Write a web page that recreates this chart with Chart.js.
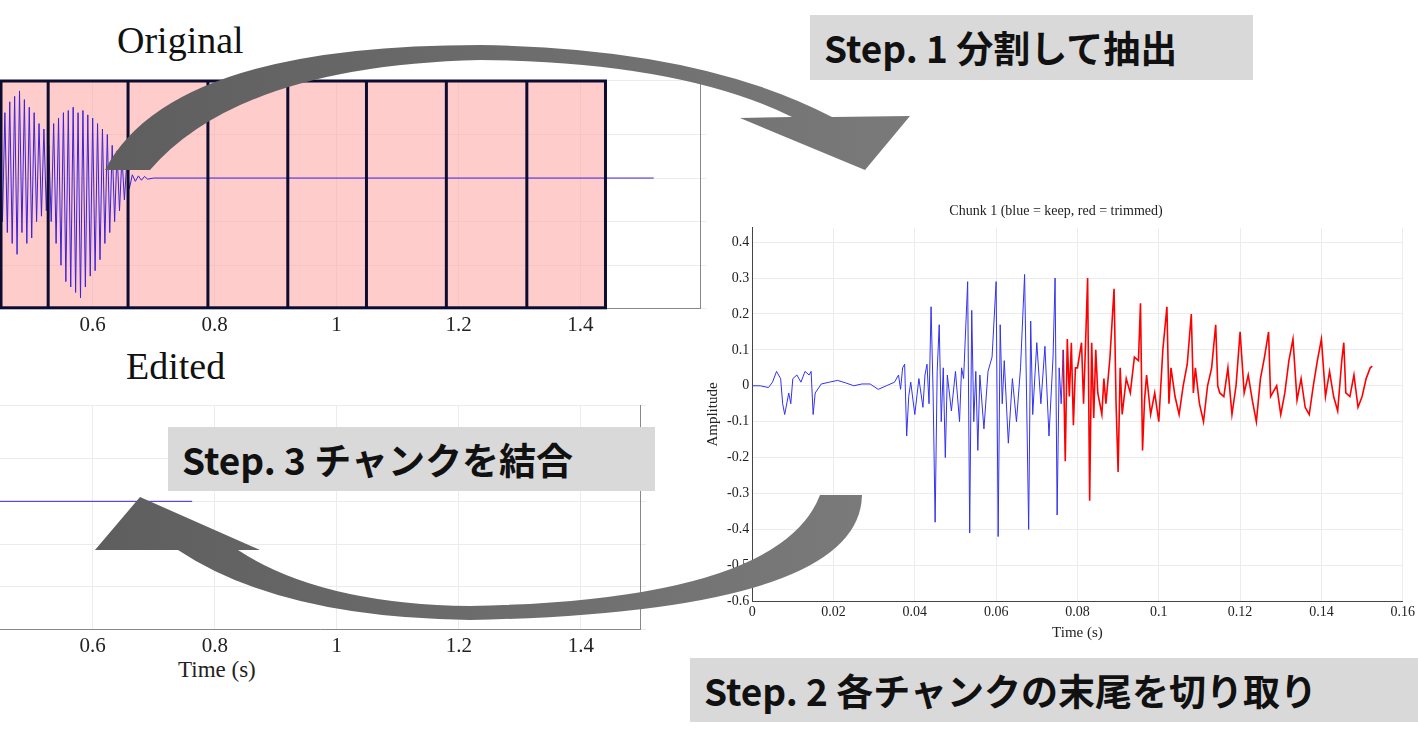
<!DOCTYPE html>
<html><head><meta charset="utf-8">
<script src="https://cdn.jsdelivr.net/npm/chart.js@4.4.1/dist/chart.umd.min.js"></script>
<style>
body{margin:0;width:1418px;height:742px;background:#fff;position:relative;overflow:hidden;font-family:"Liberation Serif",serif}
.abs{position:absolute}
.ttl{font-family:"Liberation Serif",serif;font-size:38px;color:#111}
.step{position:absolute;background:#d9d9d9;font-family:"Noto Sans CJK JP",sans-serif;font-weight:700;font-size:37px;color:#111;line-height:64px;padding-left:14px;box-sizing:border-box}
</style></head><body>
<div class="abs ttl" style="left:117px;top:18px">Original</div>
<div class="abs ttl" style="left:126px;top:344px">Edited</div>
<div class="abs" style="left:178px;top:657px;font-size:23px;color:#222">Time (s)</div>
<div class="abs" style="left:0;top:70px;width:726px;height:272px"><canvas id="orig"></canvas></div>
<div class="abs" style="left:0;top:395px;width:666px;height:268px"><canvas id="edit"></canvas></div>
<div class="abs" style="left:702px;top:195px;width:716px;height:447px"><canvas id="chunk"></canvas></div>
<svg class="abs" style="left:0;top:0" width="1418" height="742">
<defs><linearGradient id="g" x1="0" y1="0" x2="1" y2="0"><stop offset="0" stop-color="#5e5e5e"/><stop offset="1" stop-color="#7a7a7a"/></linearGradient></defs>
<path fill="url(#g)" d="M105,170 Q170,45 480,45 Q700,48 832,117 L910,116 L865,170 L740,118 L792,117 Q680,62 480,60 Q240,66 150,170 Z"/>
<path fill="url(#g)" d="M862,495 Q860,612 470,620 Q280,618 178,550 L95,550 L140,497 L260,550 L238,550 Q320,604 470,606 Q780,600 820,495 Z"/>
</svg>
<div class="step" style="left:810px;top:15px;width:443px;height:65px">Step. 1 分割して抽出</div>
<div class="step" style="left:168px;top:427px;width:487px;height:64px">Step. 3 チャンクを結合</div>
<div class="step" style="left:690px;top:658px;width:728px;height:64px">Step. 2 各チャンクの末尾を切り取り</div>
<script>
// ---- Chunk 1 data ----
const blueT=[0,.002,.004,.005,.006,.007,.0075,.008,.009,.0095,.010,.011,.012,.013,.014,.0145,.015,.0155,.017,.019,.021,.023,.025,.027,.029,.031,.033,.035,.036,.0365,.037,.0375,.038,.0385,.039,.040,.041,.042,.0425,.043,.0435,.044,.0445,.045,.0455,.046,.0465,.047,.0475,.048,.049,.050,.051,.0515,.052,.053,.0535,.054,.0545,.055,.0555,.056,.057,.058,.059,.060,.0605,.061,.0615,.062,.063,.064,.065,.066,.067,.0675,.068,.0685,.069,.070,.071,.072,.073,.074,.0745,.075,.0755,.076,.0765];
const blueA=[0,0,-.005,.01,.04,.02,-.05,-.08,-.02,-.05,.02,.03,.01,.04,.03,.04,-.08,-.02,.005,.01,.015,.008,0,.005,.005,-.01,0,.01,.03,-.01,.05,.06,-.14,-.03,.01,-.08,.02,-.06,.03,.06,-.05,.22,-.02,-.38,.04,.17,-.1,.05,-.2,.03,-.07,.04,-.1,.05,.02,.29,-.41,.21,-.1,.04,-.18,.03,-.12,.04,.08,.29,-.42,.17,-.05,.07,-.16,.02,-.1,.05,.31,-.04,-.4,.18,-.08,.12,-.05,.11,-.14,.08,.3,-.36,.05,-.05,.1];
const redT=[.0765,.077,.0775,.078,.0785,.079,.0795,.080,.081,.0815,.082,.0825,.083,.0835,.084,.0845,.085,.086,.0865,.087,.088,.089,.0895,.090,.0905,.091,.092,.093,.094,.095,.0955,.096,.0965,.097,.098,.099,.1,.1005,.101,.102,.1025,.103,.104,.105,.106,.107,.108,.1085,.109,.110,.111,.112,.113,.114,.1145,.115,.116,.117,.118,.119,.120,.121,.122,.123,.124,.125,.126,.127,.1275,.128,.129,.130,.131,.132,.133,.134,.135,.136,.137,.138,.139,.140,.141,.142,.143,.144,.145,.1455,.146,.147,.148,.149,.150,.151,.152,.1525];
const redA=[.1,-.21,.13,-.03,.12,-.11,.05,.05,.12,-.05,.12,.30,-.32,.12,-.09,.1,-.02,-.08,.02,-.05,.08,.27,-.05,-.24,.05,-.08,.02,-.02,.08,.07,.23,-.18,-.04,.03,-.08,-.02,-.1,0,.1,.22,-.05,.05,-.03,-.08,0,.06,.2,-.02,.05,-.05,-.1,0,.05,.17,0,-.02,-.03,.05,-.08,0,.15,-.02,.03,-.04,-.1,.02,.08,.15,-.03,-.02,0,-.08,-.02,.07,.13,-.04,.02,-.06,-.08,0,.07,.13,-.03,.04,-.03,-.07,.07,.12,-.02,-.03,.03,-.06,-.03,.02,.05,.055];
const chunkXTicks=[0,.02,.04,.06,.08,.1,.12,.14,.16];
const chunkYTicks=[-.6,-.5,-.4,-.3,-.2,-.1,0,.1,.2,.3,.4];
// ---- Original / Edited data ----
const origT=[.448,.452,.456,.460,.464,.468,.472,.476,.480,.484,.488,.492,.496,.500,.504,.508,.512,.516,.520,.524,
.528,.532,.536,.540,.544,.548,.552,.556,.560,.564,.568,.572,.576,.580,.584,.588,.592,.596,.600,.604,.608,.612,.616,.620,.624,.628,.632,.636,.640,.644,.648,.652,.656,.660,
.665,.670,.675,.680,.685,.690,.700,1.52];
const origA=[.5,-.4,.6,-.5,.7,-.6,.75,-.7,.8,-.5,.72,-.6,.65,-.55,.6,-.4,.5,-.35,.45,-.3,
.3,-.4,.5,-.6,.55,-.8,.6,-.95,.62,-1.0,.65,-1.05,.6,-1.1,.62,-1.0,.58,-.9,.55,-.85,.5,-.75,.45,-.6,.4,-.5,.3,-.4,.25,-.3,.2,-.2,.15,-.1,
.03,-.03,.02,-.02,.015,-.01,0,0];
const chunkEdges=[.448,.527,.658,.789,.920,1.049,1.180,1.312,1.441];
const editT=[.448,.763];
const editA=[0,0];
const waveTicks=[.6,.8,1,1.2,1.4];

const serif='"Liberation Serif", serif';
const mk=(T,A)=>T.map((t,i)=>({x:t,y:A[i]}));
const fixTicks=arr=>(s=>{s.ticks=arr.map(v=>({value:v}))});
const fmt=v=>(Math.round(v*100)/100).toString();

new Chart(document.getElementById('chunk'),{type:'line',
 data:{datasets:[
  {data:mk(blueT,blueA),borderColor:'#3333ee',borderWidth:1,pointRadius:0,tension:0},
  {data:mk(redT,redA),borderColor:'#ff0000',borderWidth:1.6,pointRadius:0,tension:0}]},
 options:{animation:false,responsive:true,maintainAspectRatio:false,
  layout:{padding:{top:0,right:8,left:0,bottom:0}},
  plugins:{legend:{display:false},tooltip:{enabled:false},
   title:{display:true,text:'Chunk 1 (blue = keep, red = trimmed)',font:{family:serif,size:14,weight:'normal'},color:'#222',padding:{top:8,bottom:8}}},
  scales:{
   x:{type:'linear',min:0,max:.16,afterBuildTicks:fixTicks(chunkXTicks),
      ticks:{font:{family:serif,size:14},color:'#222',callback:fmt,maxRotation:0},
      grid:{color:'#ececec',tickLength:0},border:{color:'#444'},
      title:{display:true,text:'Time (s)',font:{family:serif,size:15},color:'#222',padding:0}},
   y:{min:-.6,max:.44,afterBuildTicks:fixTicks(chunkYTicks),
      ticks:{font:{family:serif,size:14},color:'#222',callback:fmt},
      grid:{color:'#ececec',tickLength:0},border:{color:'#444'},
      title:{display:true,text:'Amplitude',font:{family:serif,size:15},color:'#222',padding:2}}}}});

const boxes={id:'boxes',beforeDatasetsDraw(c){const x=c.scales.x,a=c.chartArea,ctx=c.ctx;ctx.save();
 ctx.fillStyle='rgba(255,170,170,0.6)';ctx.fillRect(x.getPixelForValue(chunkEdges[0]),a.top,x.getPixelForValue(chunkEdges[chunkEdges.length-1])-x.getPixelForValue(chunkEdges[0]),a.bottom-a.top);ctx.restore();},
 afterDatasetsDraw(c){const x=c.scales.x,a=c.chartArea,ctx=c.ctx;ctx.save();ctx.strokeStyle='#0c0c30';ctx.lineWidth=3;
 const l=x.getPixelForValue(chunkEdges[0]),r=x.getPixelForValue(chunkEdges[chunkEdges.length-1]);
 ctx.strokeRect(l+1,a.top+1,r-l-1,a.bottom-a.top-2);
 chunkEdges.slice(1,-1).forEach(e=>{const p=x.getPixelForValue(e);ctx.beginPath();ctx.moveTo(p,a.top);ctx.lineTo(p,a.bottom);ctx.stroke();});ctx.restore();}};

function wave(id,T,A,max,plugins){
 return new Chart(document.getElementById(id),{type:'line',
 data:{datasets:[{data:mk(T,A),borderColor:'#3a22dd',borderWidth:1,pointRadius:0,tension:0}]},
 plugins:plugins,
 options:{animation:false,responsive:true,maintainAspectRatio:false,
  layout:{padding:{top:10,right:20,left:0,bottom:0}},
  plugins:{legend:{display:false},tooltip:{enabled:false}},
  scales:{
   x:{type:'linear',min:.448,max:max,afterBuildTicks:fixTicks(waveTicks),
      ticks:{font:{family:serif,size:21},color:'#222',callback:fmt,maxRotation:0,padding:4},
      grid:{color:'#ececec',tickLength:0},border:{color:'#888'}},
   y:{position:'right',min:-1.2,max:.9,afterBuildTicks:fixTicks([-1.2,-.8,-.4,0,.4,.9]),
      ticks:{display:false},grid:{color:'#ececec',tickLength:6},border:{color:'#888'}}}}});
}
wave('orig',origT,origA,1.596,[boxes]);
wave('edit',editT,editA,1.497,[]);
</script></body></html>
